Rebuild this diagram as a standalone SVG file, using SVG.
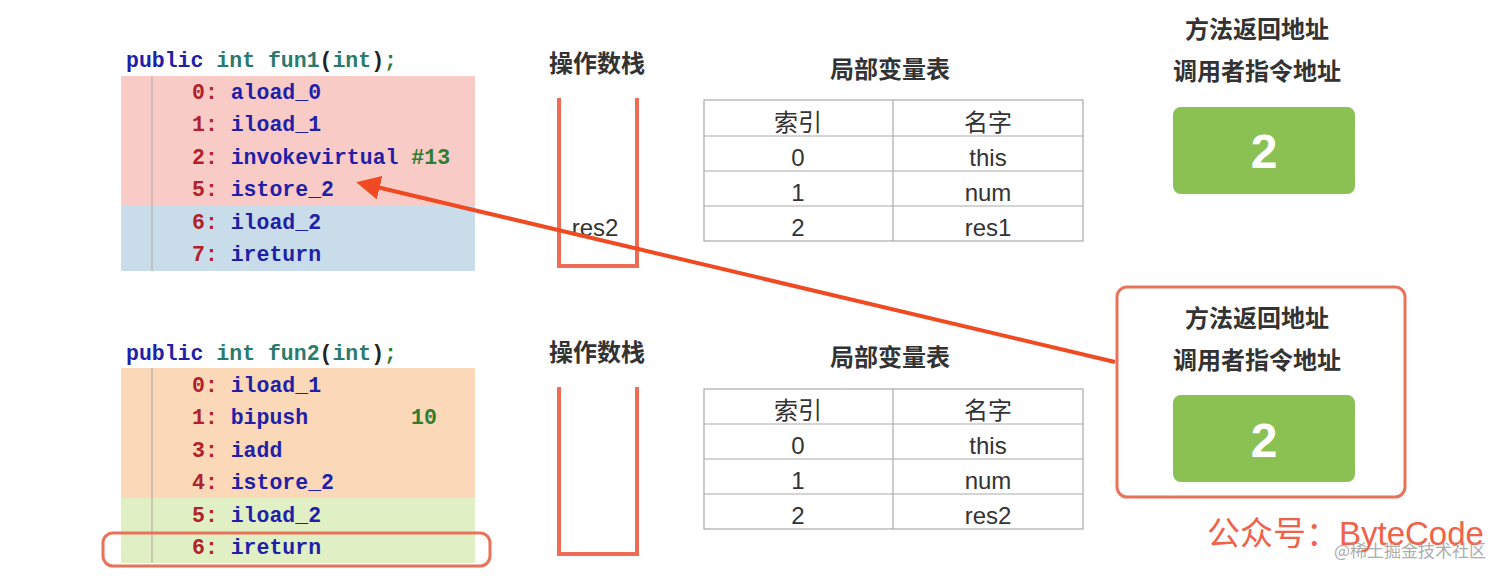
<svg xmlns="http://www.w3.org/2000/svg" width="1512" height="579" viewBox="0 0 1512 579">
<defs>
<style>
.code{font-family:"Liberation Mono","DejaVu Sans Mono",monospace;font-size:21.5px;font-weight:bold}
.kw{fill:#1f1fa8}
.ty{fill:#2a7a6e}
.pn{fill:#222}
.num{fill:#b0212b}
.op{fill:#1f1fa8}
.lit{fill:#2e7d32}
.ttl{font-family:"Noto Sans CJK SC","Noto Sans",sans-serif;font-size:24px;font-weight:bold;fill:#333;text-anchor:middle}
.cell{font-family:"Liberation Sans","Noto Sans CJK SC",sans-serif;font-size:24px;fill:#333;text-anchor:middle}
.grid{fill:none;stroke:#aaa;stroke-width:1.2}
.stack{fill:none;stroke:#ee6b55;stroke-width:4}
.gbox{fill:#8bc053}
.big{font-family:"Liberation Sans",sans-serif;font-size:48px;font-weight:bold;fill:#fff;text-anchor:middle}
.hl{fill:none;stroke:#e8735a;stroke-width:3}
.gut{stroke:#b8b0a8;stroke-width:1.2}
</style>
<marker id="ah" markerWidth="6" markerHeight="6" refX="4" refY="3" orient="auto" markerUnits="strokeWidth">
<path d="M0,0 L6,3 L0,6 Z" fill="#f04a22"/>
</marker>
</defs>
<rect width="1512" height="579" fill="#fff"/>

<g id="code1">
<text class="code" x="126" y="67"><tspan class="kw">public</tspan><tspan class="ty"> int fun1</tspan><tspan class="pn">(</tspan><tspan class="ty">int</tspan><tspan class="pn">)</tspan><tspan class="lit">;</tspan></text>
<rect x="121" y="76" width="354" height="130" fill="#f9cbc6"/>
<rect x="121" y="206" width="354" height="65" fill="#c9dcea"/>
<line class="gut" x1="152" y1="76" x2="152" y2="271"/>
<text class="code" x="192" y="99"><tspan class="num">0:</tspan><tspan class="op"> aload_0</tspan></text>
<text class="code" x="192" y="131"><tspan class="num">1:</tspan><tspan class="op"> iload_1</tspan></text>
<text class="code" x="192" y="164"><tspan class="num">2:</tspan><tspan class="op"> invokevirtual</tspan><tspan class="lit"> #13</tspan></text>
<text class="code" x="192" y="196"><tspan class="num">5:</tspan><tspan class="op"> istore_2</tspan></text>
<text class="code" x="192" y="229"><tspan class="num">6:</tspan><tspan class="op"> iload_2</tspan></text>
<text class="code" x="192" y="261"><tspan class="num">7:</tspan><tspan class="op"> ireturn</tspan></text>
</g>

<g id="code2">
<text class="code" x="126" y="360"><tspan class="kw">public</tspan><tspan class="ty"> int fun2</tspan><tspan class="pn">(</tspan><tspan class="ty">int</tspan><tspan class="pn">)</tspan><tspan class="lit">;</tspan></text>
<rect x="121" y="368" width="354" height="130" fill="#fbd8b8"/>
<rect x="121" y="498" width="354" height="65" fill="#e0f0c4"/>
<line class="gut" x1="152" y1="368" x2="152" y2="563"/>
<text class="code" x="192" y="392"><tspan class="num">0:</tspan><tspan class="op"> iload_1</tspan></text>
<text class="code" x="192" y="424"><tspan class="num">1:</tspan><tspan class="op"> bipush</tspan></text>
<text class="code lit" x="411" y="424">10</text>
<text class="code" x="192" y="457"><tspan class="num">3:</tspan><tspan class="op"> iadd</tspan></text>
<text class="code" x="192" y="489"><tspan class="num">4:</tspan><tspan class="op"> istore_2</tspan></text>
<text class="code" x="192" y="522"><tspan class="num">5:</tspan><tspan class="op"> iload_2</tspan></text>
<text class="code" x="192" y="554"><tspan class="num">6:</tspan><tspan class="op"> ireturn</tspan></text>
<rect class="hl" x="103" y="533" width="387" height="33" rx="10"/>
</g>

<g id="stack1">
<text class="ttl" x="597" y="72">操作数栈</text>
<path class="stack" d="M559,98 V266 H637 V98"/>
<text class="cell" x="595" y="236">res2</text>
</g>

<g id="stack2">
<text class="ttl" x="597" y="361">操作数栈</text>
<path class="stack" d="M559,387 V554 H637 V387"/>
</g>

<g id="locals1">
<text class="ttl" x="890" y="78">局部变量表</text>
<rect class="grid" x="704" y="100" width="379" height="141"/>
<line class="grid" x1="893" y1="100" x2="893" y2="241"/>
<line class="grid" x1="704" y1="136" x2="1083" y2="136"/>
<line class="grid" x1="704" y1="171" x2="1083" y2="171"/>
<line class="grid" x1="704" y1="206" x2="1083" y2="206"/>
<text class="cell" x="798" y="131">索引</text>
<text class="cell" x="988" y="131">名字</text>
<text class="cell" x="798" y="166">0</text>
<text class="cell" x="988" y="166">this</text>
<text class="cell" x="798" y="201">1</text>
<text class="cell" x="988" y="201">num</text>
<text class="cell" x="798" y="236">2</text>
<text class="cell" x="988" y="236">res1</text>
</g>

<g id="locals2">
<text class="ttl" x="890" y="366">局部变量表</text>
<rect class="grid" x="704" y="389" width="379" height="140"/>
<line class="grid" x1="893" y1="389" x2="893" y2="529"/>
<line class="grid" x1="704" y1="424" x2="1083" y2="424"/>
<line class="grid" x1="704" y1="459" x2="1083" y2="459"/>
<line class="grid" x1="704" y1="494" x2="1083" y2="494"/>
<text class="cell" x="798" y="419">索引</text>
<text class="cell" x="988" y="419">名字</text>
<text class="cell" x="798" y="454">0</text>
<text class="cell" x="988" y="454">this</text>
<text class="cell" x="798" y="489">1</text>
<text class="cell" x="988" y="489">num</text>
<text class="cell" x="798" y="524">2</text>
<text class="cell" x="988" y="524">res2</text>
</g>

<g id="ret1">
<text class="ttl" x="1257" y="38">方法返回地址</text>
<text class="ttl" x="1257" y="80">调用者指令地址</text>
<rect class="gbox" x="1173" y="107" width="182" height="87" rx="8"/>
<text class="big" x="1264" y="168">2</text>
</g>

<g id="ret2">
<rect class="hl" x="1117" y="287" width="288" height="210" rx="10"/>
<text class="ttl" x="1257" y="327">方法返回地址</text>
<text class="ttl" x="1257" y="369">调用者指令地址</text>
<rect class="gbox" x="1173" y="395" width="182" height="87" rx="8"/>
<text class="big" x="1264" y="457">2</text>
</g>

<g id="connectors">
<line x1="1115" y1="362" x2="364" y2="184" stroke="#f04a22" stroke-width="4" marker-end="url(#ah)"/>
</g>

<g id="watermark">
<text x="1207" y="545" font-family="Liberation Sans,Noto Sans CJK SC,sans-serif" font-size="33" fill="#f0624a">公众号：ByteCode</text>
<text x="1334" y="557" font-family="Noto Sans CJK SC,sans-serif" font-size="17" fill="#999" opacity="0.8">@稀土掘金技术社区</text>
</g>
</svg>
